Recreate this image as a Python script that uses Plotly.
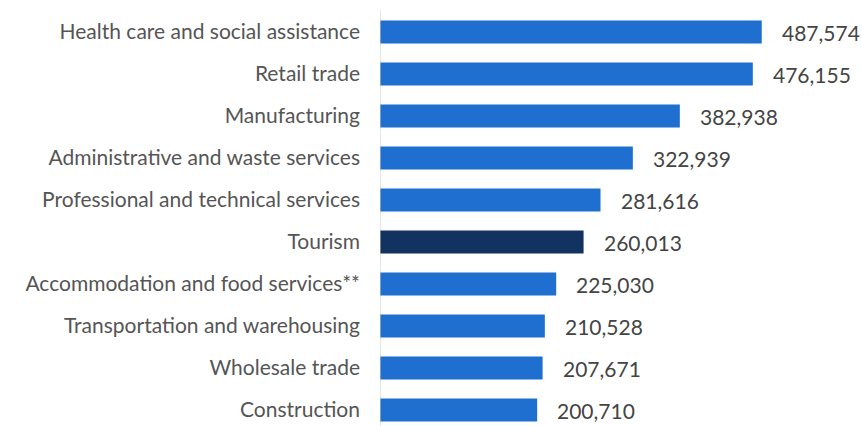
import plotly.graph_objects as go

categories = [
    "Health care and social assistance",
    "Retail trade",
    "Manufacturing",
    "Administrative and waste services",
    "Professional and technical services",
    "Tourism",
    "Accommodation and food services**",
    "Transportation and warehousing",
    "Wholesale trade",
    "Construction",
]
values = [487574, 476155, 382938, 322939, 281616, 260013, 225030, 210528, 207671, 200710]
highlight = "Tourism"

BLUE = "#1f6fd0"
DARK = "#12335f"
colors = [DARK if c == highlight else BLUE for c in categories]

fig = go.Figure()
fig.add_trace(go.Bar(
    x=values, y=categories, orientation="h",
    marker=dict(color=colors, line=dict(width=0)),
    width=0.55, hoverinfo="skip",
))

for c, v in zip(categories, values):
    fig.add_annotation(x=v, y=c, text=f"{v:,}", showarrow=False,
                       xanchor="left", yanchor="middle", xshift=18, yshift=0,
                       font=dict(family="Lato", size=21, color="#444444"))

fig.add_shape(type="line", xref="x", yref="paper", x0=0, x1=0, y0=0, y1=0.977,
              line=dict(color="#cfcfcf", width=1))

fig.update_layout(
    width=862, height=426,
    margin=dict(l=380, r=0, t=0, b=0),
    paper_bgcolor="white", plot_bgcolor="white",
    showlegend=False,
    font=dict(family="Lato", size=21, color="#555555"),
)
fig.update_xaxes(range=[0, 615600], visible=False)
fig.update_yaxes(
    categoryorder="array", categoryarray=categories,
    range=[9.381, -0.762], showgrid=False, zeroline=False, showline=False,
    ticks="", ticklabelstandoff=19,
    tickfont=dict(family="Lato", size=21, color="#555555"),
)
fig.write_html("out.html", config={"displayModeBar": False},
               post_script="document.body.style.margin='0';document.body.style.overflow='hidden';")
